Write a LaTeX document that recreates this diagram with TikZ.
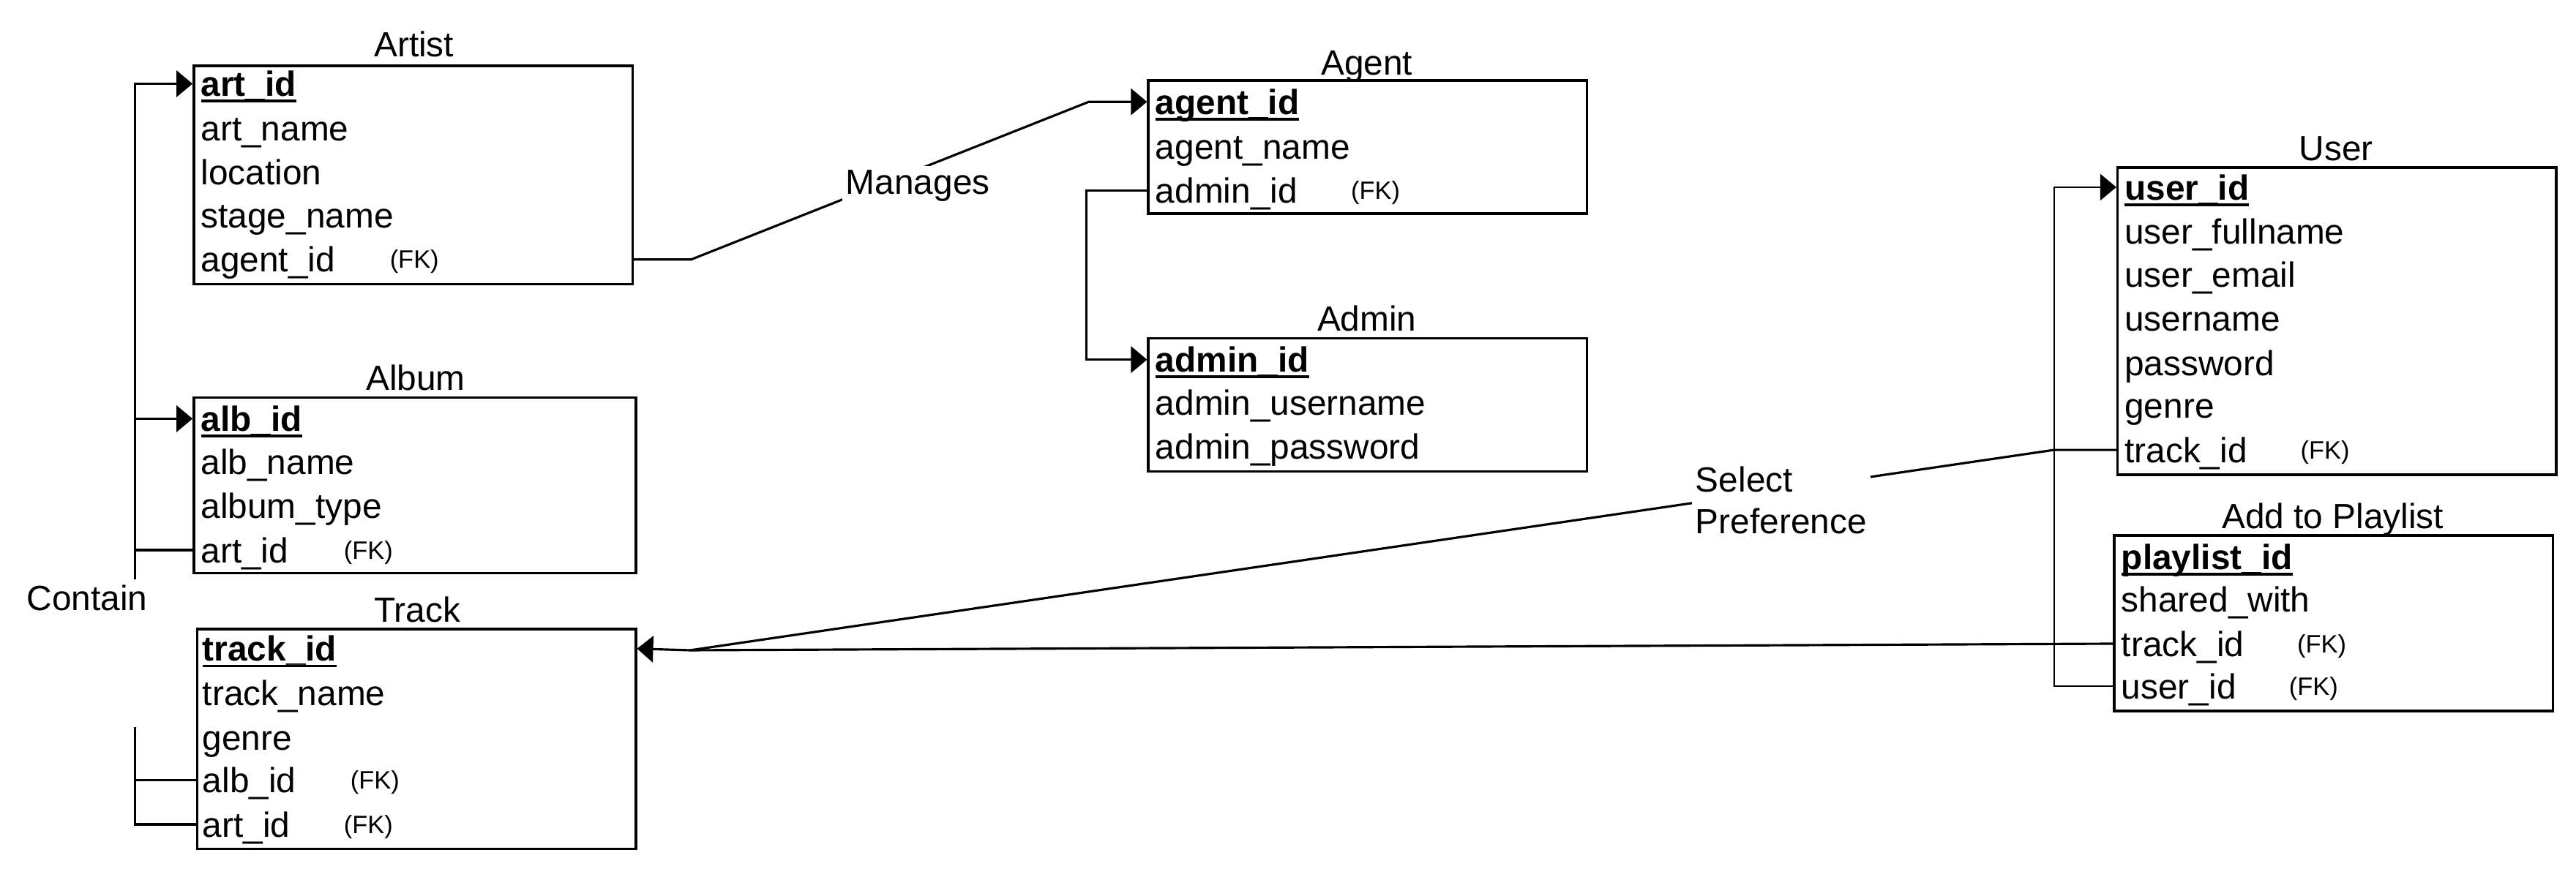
\documentclass[tikz,border=0pt]{standalone}
\usepackage{fontspec}
\setmainfont{Liberation Sans}
\usetikzlibrary{arrows.meta,fit}

\newcommand{\keyul}[1]{\setbox0\hbox{#1}\rlap{\rule[-2.4pt]{\wd0}{1.1pt}}\box0}

\tikzset{
  tbl/.style={draw, line width=1pt, inner sep=0pt},
  ttl/.style={inner sep=0pt, text height=9.8pt, text depth=0pt, font=\fontsize{13.6}{16}\selectfont},
  fld/.style={anchor=west, inner sep=0pt, text height=9.8pt, text depth=0pt, font=\fontsize{13.6}{16}\selectfont},
  pk/.style={fld, font=\fontsize{13.6}{16}\selectfont\bfseries},
  fk/.style={anchor=west, inner sep=0pt, text height=7pt, text depth=0pt, font=\fontsize{9.8}{12}\selectfont},
  lbl/.style={fill=white, inner sep=1.5pt, font=\fontsize{13.6}{16}\selectfont},
  rel/.style={line width=0.9pt},
  thinrel/.style={line width=0.6pt},
  tip/.style={-{Triangle[length=2.2mm,width=3.6mm]}}
}

\begin{document}
\begin{tikzpicture}[x=0.2245mm, y=-0.2245mm]
    \useasboundingbox (0,0) rectangle (1568,529);

    % Artist
    \node[ttl] (artistttl) at (252,27) {Artist};
    \node[tbl, fit={(118,40) (385,173)}] (artist) {};
    \node[pk] (artid) at (122,51) {\keyul{art\_id}};
    \node[fld] (artname) at (122,78) {art\_name};
    \node[fld] (location) at (122,105) {location};
    \node[fld] (stagename) at (122,131) {stage\_name};
    \node[fld] (agentid) at (122,158) {agent\_id};
    \node[fk] (agentidfk) at (237,158) {(FK)};

    % Album
    \node[ttl] (albumttl) at (253,230) {Album};
    \node[tbl, fit={(118,242) (387,349)}] (album) {};
    \node[pk] (albid) at (122,255) {\keyul{alb\_id}};
    \node[fld] (albname) at (122,281) {alb\_name};
    \node[fld] (albtype) at (122,308) {album\_type};
    \node[fld] (albartid) at (122,335) {art\_id};
    \node[fk] (albartidfk) at (209,335) {(FK)};

    % Track
    \node[ttl] (trackttl) at (254,371) {Track};
    \node[tbl, fit={(120,383) (387,517)}] (track) {};
    \node[pk] (trkid) at (123,395) {\keyul{track\_id}};
    \node[fld] (trkname) at (123,422) {track\_name};
    \node[fld] (trkgenre) at (123,449) {genre};
    \node[fld] (trkalbid) at (123,475) {alb\_id};
    \node[fk] (trkalbidfk) at (213,475) {(FK)};
    \node[fld] (trkartid) at (123,502) {art\_id};
    \node[fk] (trkartidfk) at (209,502) {(FK)};

    % Agent
    \node[ttl] (agentttl) at (832,38) {Agent};
    \node[tbl, fit={(699,49) (966,130)}] (agent) {};
    \node[pk] (agtid) at (703,62) {\keyul{agent\_id}};
    \node[fld] (agtname) at (703,89) {agent\_name};
    \node[fld] (agtadminid) at (703,116) {admin\_id};
    \node[fk] (agtadminidfk) at (822,116) {(FK)};

    % Admin
    \node[ttl] (adminttl) at (832,194) {Admin};
    \node[tbl, fit={(699,206) (966,287)}] (admin) {};
    \node[pk] (admid) at (703,219) {\keyul{admin\_id}};
    \node[fld] (admuser) at (703,245) {admin\_username};
    \node[fld] (admpass) at (703,272) {admin\_password};

    % User
    \node[ttl] (userttl) at (1422,90) {User};
    \node[tbl, fit={(1289,102) (1556,289)}] (user) {};
    \node[pk] (usrid) at (1293,114) {\keyul{user\_id}};
    \node[fld] (usrfull) at (1293,141) {user\_fullname};
    \node[fld] (usrmail) at (1293,167) {user\_email};
    \node[fld] (usrname) at (1293,194) {username};
    \node[fld] (usrpass) at (1293,221) {password};
    \node[fld] (usrgenre) at (1293,247) {genre};
    \node[fld] (usrtrackid) at (1293,274) {track\_id};
    \node[fk] (usrtrackidfk) at (1400,274) {(FK)};

    % Add to Playlist
    \node[ttl] (playlistttl) at (1420,314) {Add to Playlist};
    \node[tbl, fit={(1287,326) (1554,433)}] (playlist) {};
    \node[pk] (plid) at (1291,339) {\keyul{playlist\_id}};
    \node[fld] (plshared) at (1291,365) {shared\_with};
    \node[fld] (pltrackid) at (1291,392) {track\_id};
    \node[fk] (pltrackidfk) at (1398,392) {(FK)};
    \node[fld] (pluserid) at (1291,418) {user\_id};
    \node[fk] (pluseridfk) at (1393,418) {(FK)};

    % Contain
    \coordinate (ctop) at (82,353);
    \coordinate (cbot) at (82,443);
    \node[ttl] (contain) at (53,364) {Contain};
    \draw[rel,tip] (ctop) |- (artist.west |- artid);
    \draw[rel,tip] (ctop) |- (album.west |- albid);
    \draw[rel] (album.west |- albartid) -| (ctop);
    \draw[rel] (track.west |- trkalbid) -| (cbot);
    \draw[rel] (track.west |- trkartid) -| (cbot);

    % Manages
    \draw[rel,tip] (artist.east |- agentid) -- ++(35,0)
        -- node[lbl, pos=0.57, yshift=-2.2mm] (manages) {Manages} ++(242,-96)
        -- (agent.west |- agtid);

    % agent -> admin
    \draw[rel,tip] (agent.west |- agtadminid) -- ++(-37,0) |- (admin.west |- admid);

    % Select Preference
    \coordinate (join) at (420,396);
    \draw[rel] (user.west |- usrtrackid) -- ++(-38,0)
        -- node[lbl, align=left, pos=0.2, yshift=-1.4mm] (selpref) {Select\\Preference} (join);
    \draw[rel,tip] (playlist.west |- pltrackid) -- (join) -- (track.east |- trkid);

    % playlist -> user
    \draw[thinrel,tip] (playlist.west |- pluserid) -- ++(-36,0) |- (user.west |- usrid);
\end{tikzpicture}
\end{document}
